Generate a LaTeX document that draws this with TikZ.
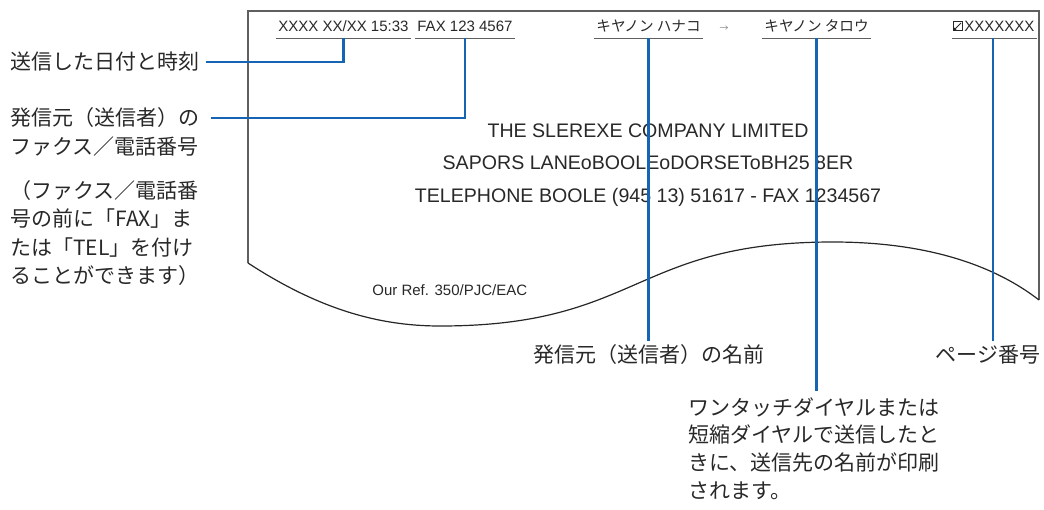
\documentclass[tikz,border=0pt]{standalone}
\usepackage{fontspec}
\setmainfont{Liberation Sans}
\newfontfamily\jpfont{Noto Sans CJK JP}
\usetikzlibrary{calc}
\definecolor{callblue}{RGB}{22,100,180}
\definecolor{inkgray}{RGB}{40,40,40}
\definecolor{rulegray}{RGB}{95,95,95}
\tikzset{
  head text/.style={
    anchor=base west,
    inner xsep=1pt,
    inner ysep=3.5pt,
    text depth=0pt,
    font=\fontsize{7.5}{9}\selectfont,
    text=inkgray
  },
  jp head/.style={
    head text,
    font=\fontsize{7.3}{9}\selectfont\jpfont
  },
  under line/.style={
    draw=rulegray,
    line width=0.9pt
  },
  callout line/.style={
    draw=callblue,
    line width=1.3pt
  },
  jp label/.style={
    font=\fontsize{10.5}{14.25}\selectfont\jpfont,
    text=inkgray,
    inner sep=0pt,
    align=left
  },
  letter text/.style={
    font=\fontsize{9.8}{12}\selectfont,
    text=inkgray
  },
  paper edge/.style={
    draw=rulegray,
    line width=0.6pt
  }
}

\begin{document}
\begin{tikzpicture}[x=0.5pt, y=-0.5pt]
  \useasboundingbox (0,0) rectangle (1044,509);

  %% ---- 用紙の輪郭 ----
  \draw[paper edge] (248,263) -- (248,11) -- (1039,11) -- (1039,300);
  \draw[line width=0.6pt, black!85]
      (248,263) .. controls (320,310) and (380,326) .. (440,326)
      .. controls (640,326) and (633,242) .. (833,242)
      .. controls (920,242) and (990,262) .. (1039,300);

  %% ---- ヘッダー（送信情報）----
  \node[head text] (date)   at (276,31) {XXXX XX/XX 15:33};
  \node[head text] (fax)    at (415,31) {FAX 123 4567};
  \node[jp head]   (hanako) at (594,31) {キヤノン ハナコ};
  \node[font=\fontsize{4.5}{5}\selectfont\jpfont, text=gray, inner sep=0pt]
      (arrow) at (724,29) {→};
  \node[jp head]   (taro)   at (762,31) {キヤノン タロウ};
  \node[head text] (page)   at (962,31) {XXXXXXX};

  % ページ記号
  \draw[line width=0.4pt, inkgray] (953.5,21.5) rectangle (962,30.5);
  \draw[line width=0.5pt, inkgray] (955,29) -- (961,23);
  \fill[inkgray] (953.5,30.5) -- (953.5,27) -- (957,30.5) -- cycle;

  % 下線
  \draw[under line] (date.south west) -- (date.south east);
  \draw[under line] (fax.south west) -- (fax.south east);
  \draw[under line] (hanako.south west) -- (hanako.south east);
  \draw[under line] (taro.south west) -- (taro.south east);
  \draw[under line] (page.south west -| 952,0) -- (page.south east);

  %% ---- 本文 ----
  \node[letter text] (company) at (648,131) {THE SLEREXE COMPANY LIMITED};
  \node[letter text] (address) at (648,163) {SAPORS LANEoBOOLEoDORSEToBH25 8ER};
  \node[letter text] (phone)   at (648,197) {TELEPHONE BOOLE (945 13) 51617 - FAX 1234567};
  \node[font=\fontsize{7.5}{9}\selectfont, text=inkgray, anchor=west, inner sep=0pt]
      (ref) at (372,290) {Our Ref. 350/PJC/EAC};

  %% ---- 説明ラベル ----
  \node[jp label, anchor=west] (datelbl) at (10,62) {送信した日付と時刻};
  \node[jp label, anchor=west] (srcfax1) at (10,118) {発信元（送信者）の};
  \node[jp label, anchor=west] (srcfax2) at (10,147) {ファクス／電話番号};
  \node[jp label, anchor=north west] (faxnote) at (10,180)
      {（ファクス／電話番\\号の前に「FAX」ま\\たは「TEL」を付け\\ることができます）};
  \node[jp label] (sender) at (649,355) {発信元（送信者）の名前};
  \node[jp label] (pagelbl) at (988,355) {ページ番号};
  \node[jp label, anchor=north west, font=\fontsize{10.5}{13.85}\selectfont\jpfont]
      (dial) at (688,397)
      {ワンタッチダイヤルまたは\\短縮ダイヤルで送信したと\\きに、送信先の名前が印刷\\されます。};

  %% ---- 引き出し線 ----
  \draw[callout line] ([xshift=3pt]datelbl.east) -| (date.south);
  \draw[callout line] ([xshift=5.5pt]srcfax1.east) -| (fax.south);
  \draw[callout line] (hanako.south) -- ([yshift=2pt]hanako.south |- sender.north);
  \draw[callout line] (taro.south) -- ([yshift=3pt]taro.south |- dial.north);
  \draw[callout line] (page.south -| 993,0) -- ([yshift=2pt]pagelbl.north -| 993,0);

\end{tikzpicture}
\end{document}
